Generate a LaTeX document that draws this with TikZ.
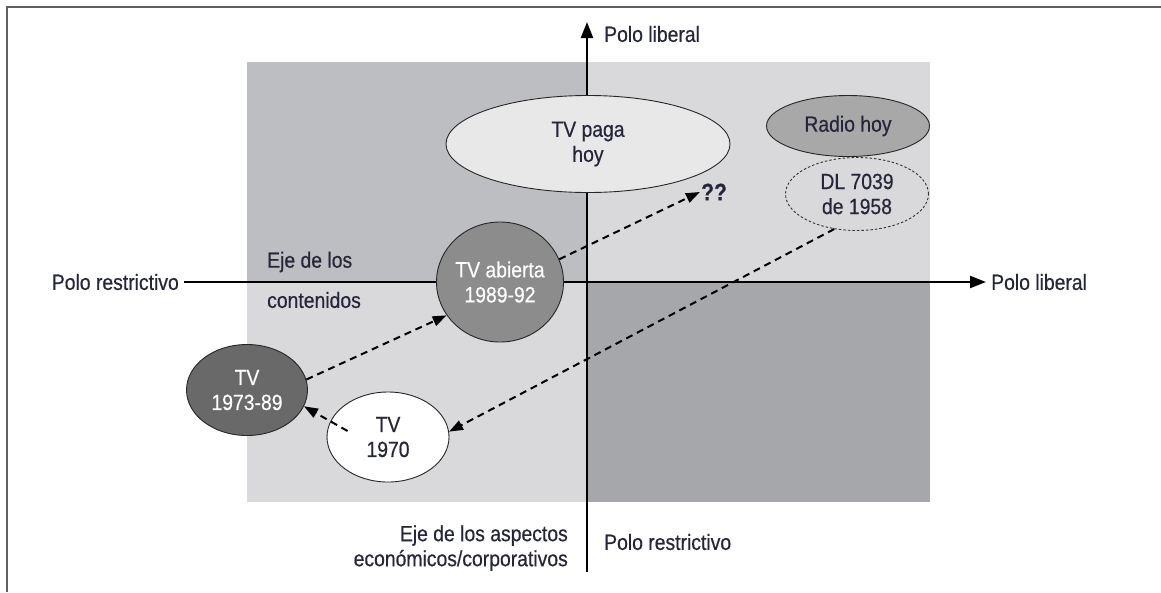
\documentclass[tikz,border=0pt]{standalone}
\usepackage{fontspec}
\setmainfont{Liberation Sans}[FakeStretch=0.88,FakeBold=0.5]
\usetikzlibrary{shapes.geometric,arrows.meta,calc}
\definecolor{txt}{HTML}{26263A}
\definecolor{qdark}{HTML}{BDBEC1}
\definecolor{qlight}{HTML}{D9D9DB}
\definecolor{qdarker}{HTML}{A6A7AA}
\definecolor{framec}{HTML}{606060}
\begin{document}
\begin{tikzpicture}[x=1pt,y=-1pt,
  every node/.style={font=\fontsize{22}{25}\selectfont, text=txt},
  lbl/.style={inner sep=5pt},
  ell/.style={ellipse, draw=black!85, line width=0.9pt, inner sep=0pt, align=center},
  axis/.style={line width=2.2pt, -{Triangle[length=16pt,width=12pt]}},
  darrow/.style={line width=2pt, dash pattern=on 7pt off 5pt, -{Triangle[length=14pt,width=10pt]}},
]
\useasboundingbox (0,0) rectangle (1161,592);
\fill[white] (0,0) rectangle (1161,592);
% quadrants
\fill[qdark] (247,62) rectangle (587,282);
\fill[qlight] (587,62) rectangle (930,282);
\fill[qlight] (247,282) rectangle (587,502);
\fill[qdarker] (587,282) rectangle (930,502);
% frame (cropped)
\draw[framec, line width=2pt] (7,592) -- (7,7) -- (1161,7);

% axis labels
\node[lbl, anchor=east] (prL) at (184,282) {Polo restrictivo};
\node[lbl, anchor=west] (plR) at (986,282) {Polo liberal};
\node[lbl, anchor=west] (plT) at (599,34) {Polo liberal};
\node[lbl, anchor=west] (prB) at (599,542) {Polo restrictivo};
\node[lbl, anchor=east, align=right] (ejeE) at (573,548) {Eje de los aspectos\\económicos/corporativos};
\node[lbl, anchor=west] (ejeC1) at (262,262) {Eje de los};
\node[lbl, anchor=west] (ejeC2) at (262,300) {contenidos};

\coordinate (vB) at (587,572);
\coordinate (vT) at (587,22);
\draw[axis] (prL.east) -- (plR.west);
\draw[axis] (vB) -- (vT);

% ellipses
\node[ell, fill=white!91!black, minimum width=284pt, minimum height=97pt] (tvpaga) at (588,144) {TV paga\\hoy};
\node[ell, fill=white!66!black, minimum width=163pt, minimum height=61pt] (radio) at (848,126) {Radio hoy};
\node[ell, draw=black!80, dash pattern=on 2.5pt off 2pt, line width=0.9pt, minimum width=143pt, minimum height=73pt] (dl) at (857,194) {DL 7039\\de 1958};
\node[ell, fill=white!55!black, text=white, minimum width=127pt, minimum height=120pt] (tvab) at (500,282) {TV abierta\\1989-92};
\node[ell, fill=white!41!black, text=white, minimum width=121pt, minimum height=91pt] (tv73) at (247,390) {TV\\1973-89};
\node[ell, fill=white, minimum width=122pt, minimum height=90pt] (tv70) at (388,437) {TV\\1970};
\node[inner sep=1pt, font=\fontsize{24}{26}\selectfont\bfseries] (qq) at (714,192) {??};

% dashed arrows
\draw[darrow] (tv73.10) -- (tvab.212);
\draw[darrow] (tvab.21) -- (qq.west);
\draw[darrow] (dl.237) -- (tv70.5);
\draw[darrow] ([xshift=21pt,yshift=6pt]tv70.west) -- (tv73.-16);
\end{tikzpicture}
\end{document}
